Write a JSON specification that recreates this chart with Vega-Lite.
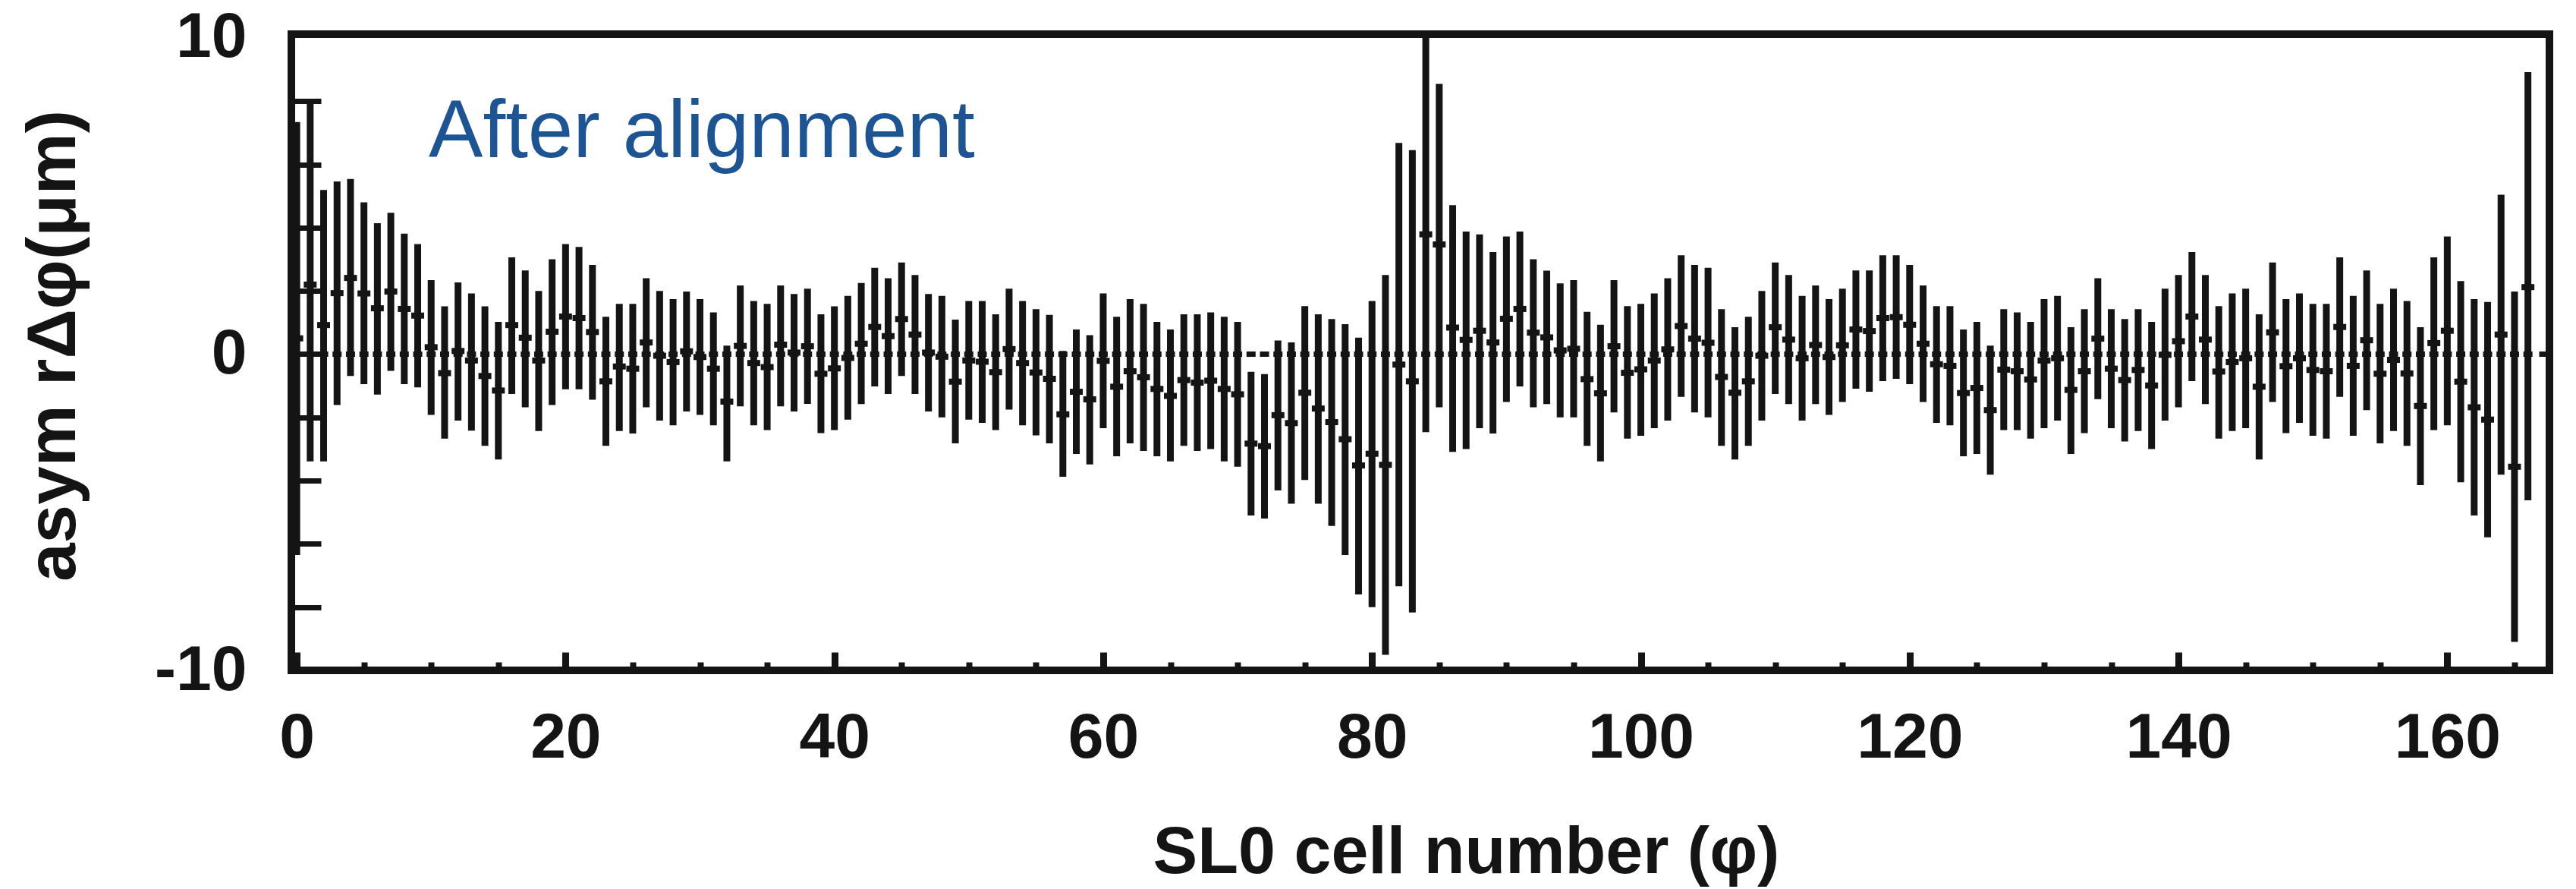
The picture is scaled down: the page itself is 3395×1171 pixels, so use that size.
{
"$schema": "https://vega.github.io/schema/vega-lite/v6.json",
"width": 2976, "height": 838,
"autosize": {"type": "none"},
"padding": {"left": 384, "top": 45, "right": 35, "bottom": 288},
"background": "white",
"config": {"view": {"stroke": "#141414", "strokeWidth": 10}, "axis": {"grid": false, "domain": false, "labelFont": "Liberation Sans", "titleFont": "Liberation Sans", "tickColor": "#141414", "labelColor": "#141414", "titleColor": "#141414"}},
"data": {"values": [
{"c":0,"m":0.5,"lo":-6.35,"hi":7.34},{"c":1,"m":2.2,"lo":-3.39,"hi":7.93},{"c":2,"m":0.92,"lo":-3.39,"hi":5.19},{"c":3,"m":1.93,"lo":-1.61,"hi":5.46},{"c":4,"m":2.41,"lo":-0.69,"hi":5.54},{"c":5,"m":1.92,"lo":-0.95,"hi":4.8},{"c":6,"m":1.45,"lo":-1.28,"hi":4.14},{"c":7,"m":1.98,"lo":-0.53,"hi":4.47},{"c":8,"m":1.43,"lo":-0.95,"hi":3.81},{"c":9,"m":1.22,"lo":-1.05,"hi":3.48},
{"c":10,"m":0.22,"lo":-1.92,"hi":2.34},{"c":11,"m":-0.6,"lo":-2.67,"hi":1.51},{"c":12,"m":0.1,"lo":-2.1,"hi":2.27},{"c":13,"m":-0.2,"lo":-2.42,"hi":1.92},{"c":14,"m":-0.69,"lo":-2.9,"hi":1.51},{"c":15,"m":-1.15,"lo":-3.33,"hi":1.02},{"c":16,"m":0.92,"lo":-1.26,"hi":3.06},{"c":17,"m":0.52,"lo":-1.68,"hi":2.65},{"c":18,"m":-0.2,"lo":-2.43,"hi":2.0},{"c":19,"m":0.71,"lo":-1.61,"hi":3.0},
{"c":20,"m":1.19,"lo":-1.11,"hi":3.48},{"c":21,"m":1.14,"lo":-1.11,"hi":3.39},{"c":22,"m":0.7,"lo":-1.44,"hi":2.82},{"c":23,"m":-0.86,"lo":-2.9,"hi":1.18},{"c":24,"m":-0.39,"lo":-2.43,"hi":1.59},{"c":25,"m":-0.46,"lo":-2.51,"hi":1.59},{"c":26,"m":0.37,"lo":-1.68,"hi":2.4},{"c":27,"m":-0.05,"lo":-2.1,"hi":2.0},{"c":28,"m":-0.25,"lo":-2.25,"hi":1.74},{"c":29,"m":0.09,"lo":-1.81,"hi":1.98},
{"c":30,"m":-0.09,"lo":-1.92,"hi":1.74},{"c":31,"m":-0.46,"lo":-2.25,"hi":1.32},{"c":32,"m":-1.5,"lo":-3.39,"hi":0.27},{"c":33,"m":0.26,"lo":-1.65,"hi":2.17},{"c":34,"m":-0.28,"lo":-2.25,"hi":1.68},{"c":35,"m":-0.41,"lo":-2.4,"hi":1.59},{"c":36,"m":0.3,"lo":-1.65,"hi":2.17},{"c":37,"m":0.05,"lo":-1.81,"hi":1.9},{"c":38,"m":0.25,"lo":-1.57,"hi":2.07},{"c":39,"m":-0.62,"lo":-2.5,"hi":1.26},
{"c":40,"m":-0.45,"lo":-2.4,"hi":1.51},{"c":41,"m":-0.12,"lo":-2.07,"hi":1.84},{"c":42,"m":0.33,"lo":-1.58,"hi":2.25},{"c":43,"m":0.86,"lo":-1.02,"hi":2.73},{"c":44,"m":0.57,"lo":-1.26,"hi":2.4},{"c":45,"m":1.11,"lo":-0.69,"hi":2.9},{"c":46,"m":0.62,"lo":-1.26,"hi":2.5},{"c":47,"m":0.05,"lo":-1.81,"hi":1.9},{"c":48,"m":-0.08,"lo":-2.0,"hi":1.84},{"c":49,"m":-0.87,"lo":-2.82,"hi":1.09},
{"c":50,"m":-0.2,"lo":-2.07,"hi":1.68},{"c":51,"m":-0.24,"lo":-2.17,"hi":1.68},{"c":52,"m":-0.57,"lo":-2.4,"hi":1.26},{"c":53,"m":0.16,"lo":-1.75,"hi":2.07},{"c":54,"m":-0.28,"lo":-2.25,"hi":1.68},{"c":55,"m":-0.58,"lo":-2.57,"hi":1.42},{"c":56,"m":-0.78,"lo":-2.82,"hi":1.24},{"c":57,"m":-1.9,"lo":-3.88,"hi":0.1},{"c":58,"m":-1.19,"lo":-3.16,"hi":0.78},{"c":59,"m":-1.43,"lo":-3.49,"hi":0.6},
{"c":60,"m":-0.21,"lo":-2.34,"hi":1.92},{"c":61,"m":-1.03,"lo":-3.23,"hi":1.18},{"c":62,"m":-0.54,"lo":-2.82,"hi":1.74},{"c":63,"m":-0.73,"lo":-3.06,"hi":1.59},{"c":64,"m":-1.1,"lo":-3.23,"hi":1.02},{"c":65,"m":-1.32,"lo":-3.39,"hi":0.78},{"c":66,"m":-0.82,"lo":-2.9,"hi":1.26},{"c":67,"m":-0.9,"lo":-3.06,"hi":1.26},{"c":68,"m":-0.84,"lo":-3.0,"hi":1.32},{"c":69,"m":-1.1,"lo":-3.39,"hi":1.18},
{"c":70,"m":-1.27,"lo":-3.56,"hi":1.02},{"c":71,"m":-2.83,"lo":-5.1,"hi":-0.56},{"c":72,"m":-2.91,"lo":-5.2,"hi":-0.63},{"c":73,"m":-1.93,"lo":-4.31,"hi":0.43},{"c":74,"m":-2.18,"lo":-4.73,"hi":0.37},{"c":75,"m":-1.22,"lo":-3.98,"hi":1.52},{"c":76,"m":-1.72,"lo":-4.73,"hi":1.26},{"c":77,"m":-2.15,"lo":-5.43,"hi":1.11},{"c":78,"m":-2.69,"lo":-6.35,"hi":0.95},{"c":79,"m":-3.52,"lo":-7.6,"hi":0.52},
{"c":80,"m":-3.15,"lo":-8.0,"hi":1.68},{"c":81,"m":-3.5,"lo":-9.51,"hi":2.5},{"c":82,"m":-0.33,"lo":-7.34,"hi":6.68},{"c":83,"m":-0.86,"lo":-8.17,"hi":6.45},{"c":84,"m":3.79,"lo":-2.47,"hi":10.05},{"c":85,"m":3.47,"lo":-1.68,"hi":8.55},{"c":86,"m":0.84,"lo":-3.09,"hi":4.71},{"c":87,"m":0.45,"lo":-3.0,"hi":3.88},{"c":88,"m":0.74,"lo":-2.34,"hi":3.79},{"c":89,"m":0.37,"lo":-2.51,"hi":3.23},
{"c":90,"m":1.12,"lo":-1.51,"hi":3.72},{"c":91,"m":1.43,"lo":-1.02,"hi":3.88},{"c":92,"m":0.68,"lo":-1.68,"hi":3.0},{"c":93,"m":0.53,"lo":-1.58,"hi":2.64},{"c":94,"m":0.12,"lo":-2.0,"hi":2.24},{"c":95,"m":0.17,"lo":-2.0,"hi":2.34},{"c":96,"m":-0.79,"lo":-2.9,"hi":1.34},{"c":97,"m":-1.24,"lo":-3.39,"hi":0.93},{"c":98,"m":0.25,"lo":-1.84,"hi":2.34},{"c":99,"m":-0.59,"lo":-2.67,"hi":1.52},
{"c":100,"m":-0.48,"lo":-2.58,"hi":1.59},{"c":101,"m":-0.2,"lo":-2.34,"hi":1.92},{"c":102,"m":0.15,"lo":-2.1,"hi":2.4},{"c":103,"m":0.89,"lo":-1.35,"hi":3.13},{"c":104,"m":0.49,"lo":-1.84,"hi":2.82},{"c":105,"m":0.36,"lo":-2.0,"hi":2.73},{"c":106,"m":-0.72,"lo":-2.9,"hi":1.42},{"c":107,"m":-1.22,"lo":-3.33,"hi":0.85},{"c":108,"m":-0.86,"lo":-2.9,"hi":1.18},{"c":109,"m":-0.05,"lo":-2.1,"hi":2.0},
{"c":110,"m":0.85,"lo":-1.26,"hi":2.9},{"c":111,"m":0.46,"lo":-1.58,"hi":2.5},{"c":112,"m":-0.13,"lo":-2.1,"hi":1.84},{"c":113,"m":0.29,"lo":-1.58,"hi":2.17},{"c":114,"m":-0.09,"lo":-1.92,"hi":1.74},{"c":115,"m":0.28,"lo":-1.51,"hi":2.07},{"c":116,"m":0.78,"lo":-1.09,"hi":2.65},{"c":117,"m":0.73,"lo":-1.19,"hi":2.65},{"c":118,"m":1.14,"lo":-0.85,"hi":3.13},{"c":119,"m":1.17,"lo":-0.78,"hi":3.13},
{"c":120,"m":0.93,"lo":-0.95,"hi":2.82},{"c":121,"m":0.33,"lo":-1.51,"hi":2.17},{"c":122,"m":-0.32,"lo":-2.17,"hi":1.52},{"c":123,"m":-0.37,"lo":-2.25,"hi":1.52},{"c":124,"m":-1.23,"lo":-3.23,"hi":0.78},{"c":125,"m":-1.07,"lo":-3.16,"hi":1.02},{"c":126,"m":-1.77,"lo":-3.81,"hi":0.27},{"c":127,"m":-0.49,"lo":-2.4,"hi":1.42},{"c":128,"m":-0.54,"lo":-2.4,"hi":1.32},{"c":129,"m":-0.8,"lo":-2.67,"hi":1.02},
{"c":130,"m":-0.2,"lo":-2.34,"hi":1.74},{"c":131,"m":-0.13,"lo":-2.1,"hi":1.84},{"c":132,"m":-1.13,"lo":-3.16,"hi":0.85},{"c":133,"m":-0.54,"lo":-2.5,"hi":1.42},{"c":134,"m":0.49,"lo":-1.42,"hi":2.4},{"c":135,"m":-0.46,"lo":-2.34,"hi":1.42},{"c":136,"m":-0.82,"lo":-2.76,"hi":1.11},{"c":137,"m":-0.5,"lo":-2.43,"hi":1.42},{"c":138,"m":-0.99,"lo":-3.0,"hi":1.02},{"c":139,"m":-0.02,"lo":-2.1,"hi":2.07},
{"c":140,"m":0.41,"lo":-1.68,"hi":2.5},{"c":141,"m":1.19,"lo":-0.85,"hi":3.23},{"c":142,"m":0.46,"lo":-1.58,"hi":2.5},{"c":143,"m":-0.55,"lo":-2.67,"hi":1.52},{"c":144,"m":-0.25,"lo":-2.43,"hi":1.92},{"c":145,"m":-0.13,"lo":-2.34,"hi":2.07},{"c":146,"m":-1.03,"lo":-3.33,"hi":1.26},{"c":147,"m":0.69,"lo":-1.51,"hi":2.9},{"c":148,"m":-0.38,"lo":-2.5,"hi":1.74},{"c":149,"m":-0.13,"lo":-2.17,"hi":1.92},
{"c":150,"m":-0.5,"lo":-2.58,"hi":1.59},{"c":151,"m":-0.54,"lo":-2.67,"hi":1.59},{"c":152,"m":0.86,"lo":-1.35,"hi":3.06},{"c":153,"m":-0.37,"lo":-2.58,"hi":1.84},{"c":154,"m":0.44,"lo":-1.77,"hi":2.65},{"c":155,"m":-0.62,"lo":-2.82,"hi":1.59},{"c":156,"m":-0.18,"lo":-2.43,"hi":2.07},{"c":157,"m":-0.61,"lo":-2.9,"hi":1.68},{"c":158,"m":-1.64,"lo":-4.14,"hi":0.85},{"c":159,"m":0.35,"lo":-2.4,"hi":3.06},
{"c":160,"m":0.74,"lo":-2.25,"hi":3.72},{"c":161,"m":-0.87,"lo":-4.05,"hi":2.31},{"c":162,"m":-1.68,"lo":-5.1,"hi":1.74},{"c":163,"m":-2.07,"lo":-5.79,"hi":1.65},{"c":164,"m":0.62,"lo":-3.81,"hi":5.04},{"c":165,"m":-3.56,"lo":-9.1,"hi":1.98},{"c":166,"m":2.12,"lo":-4.62,"hi":8.92}
]},
"layer": [
{"mark": {"type": "rule", "strokeWidth": 9, "color": "#141414", "clip": true},
 "encoding": {
  "x": {"field": "c", "type": "quantitative", "scale": {"domain": [-0.4, 167.6], "nice": false, "zero": false},
        "axis": {"orient": "bottom", "values": [0,20,40,60,80,100,120,140,160], "ticks": true, "tickSize": -24, "tickWidth": 9, "labels": false, "domain": false, "title": null}},
  "y": {"field": "lo", "type": "quantitative", "scale": {"domain": [-10, 10.12], "nice": false, "zero": false},
        "axis": {"orient": "left", "values": [-8,-6,-4,-2,0,2,4,6,8], "ticks": true, "tickSize": -39, "tickWidth": 7, "labels": false, "domain": false, "title": null}},
  "y2": {"field": "hi"}
 }},
{"mark": {"type": "tick", "orient": "horizontal", "size": 17, "thickness": 8, "color": "#141414", "opacity": 1, "clip": true},
 "encoding": {
  "x": {"field": "c", "type": "quantitative", "scale": {"domain": [-0.4, 167.6], "nice": false, "zero": false},
        "axis": {"orient": "bottom", "values": [0,20,40,60,80,100,120,140,160], "ticks": false, "labels": true, "labelFontSize": 84, "labelFontWeight": "bold", "labelBaseline": "alphabetic", "labelAlign": "center", "labelPadding": 114, "labelFlush": false, "labelOverlap": false, "labelBound": false, "domain": false,
                 "title": "SL0 cell number (φ)", "titleFontSize": 88, "titleFontWeight": "bold", "titleX": 1548, "titleY": 266, "titleBaseline": "alphabetic", "titleAlign": "center"}},
  "y": {"field": "m", "type": "quantitative", "scale": {"domain": [-10, 10.12], "nice": false, "zero": false},
        "axis": {"orient": "left", "values": [-10, 0, 10], "ticks": false, "labels": true, "labelFontSize": 84, "labelFontWeight": "bold", "labelBaseline": "middle", "labelAlign": "right", "labelPadding": 59, "labelFlush": false, "labelOverlap": false, "labelBound": false, "labelExpr": "toString(datum.value)", "domain": false,
                 "title": "asym rΔφ(μm)", "titleFontSize": 91, "titleFontWeight": "bold", "titleAngle": 270, "titleX": -286, "titleY": 410, "titleBaseline": "alphabetic", "titleAlign": "center"}}
 }},
{"mark": {"type": "tick", "orient": "horizontal", "size": 12, "thickness": 7, "color": "#141414", "opacity": 1, "clip": true},
 "encoding": {
  "x": {"field": "c", "type": "quantitative", "scale": {"domain": [-0.4, 167.6], "nice": false, "zero": false},
        "axis": {"orient": "bottom", "values": [5,10,15,25,30,35,45,50,55,65,70,75,85,90,95,105,110,115,125,130,135,145,150,155,165], "ticks": true, "tickSize": -11, "tickWidth": 8, "labels": false, "domain": false, "title": null}},
  "y": {"datum": 0, "type": "quantitative", "scale": {"domain": [-10, 10.12], "nice": false, "zero": false},
        "axis": {"orient": "right", "values": [0], "ticks": true, "tickSize": -14, "tickWidth": 7, "labels": false, "domain": false, "title": null}}
 }},
{"data": {"values": [{}]},
 "mark": {"type": "text", "text": "After alignment", "font": "Liberation Sans", "fontSize": 107, "color": "#1d5594", "align": "left", "baseline": "alphabetic"},
 "encoding": {
  "x": {"datum": 9.82, "type": "quantitative", "scale": {"domain": [-0.4, 167.6], "nice": false, "zero": false}, "axis": null},
  "y": {"datum": 6.23, "type": "quantitative", "scale": {"domain": [-10, 10.12], "nice": false, "zero": false}, "axis": null}
 }}
],
"resolve": {"axis": {"x": "independent", "y": "independent"}}
}
